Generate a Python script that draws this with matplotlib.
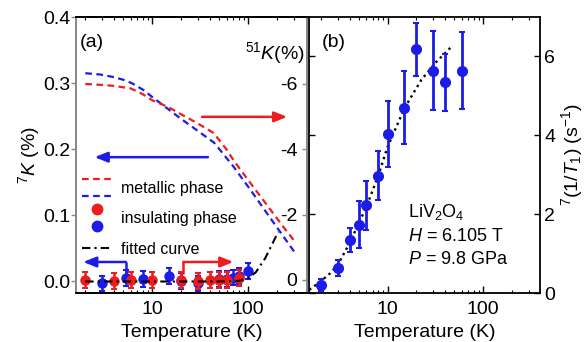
import matplotlib
matplotlib.use("Agg")
import matplotlib.pyplot as plt
from matplotlib.lines import Line2D
from matplotlib.legend_handler import HandlerBase
from matplotlib.ticker import FixedLocator, FixedFormatter, NullFormatter, LogLocator

plt.rcParams['font.family'] = ['Liberation Sans', 'DejaVu Sans']
plt.rcParams['mathtext.fontset'] = 'custom'
plt.rcParams['mathtext.rm'] = 'Liberation Sans'
plt.rcParams['mathtext.it'] = 'Liberation Sans:italic'
plt.rcParams['mathtext.bf'] = 'Liberation Sans:bold'

RED = '#ee1c1c'
BLUE = '#1c1ce6'
GRAY = '#888888'

# ---------------- data : panel (a) ----------------
# metallic phase, 51K (right axis, %)
T_met_red = [2, 3, 4, 6, 8, 10, 14.5, 20, 29, 43.5, 60, 70, 105, 157, 233, 309]
K51_met = [-6.00, -5.97, -5.94, -5.86, -5.68, -5.50, -5.30, -5.07, -4.81, -4.50,
           -3.98, -3.67, -2.97, -2.29, -1.62, -1.16]
# metallic phase, 7K (left axis, %)
T_met_blue = [2, 2.87, 4, 5.0, 6.1, 8, 10.2, 13.1, 19.5, 29, 44, 70, 105, 157, 233, 309]
K7_met = [0.315, 0.313, 0.309, 0.305, 0.300, 0.290, 0.278, 0.266, 0.247, 0.229,
          0.210, 0.174, 0.139, 0.103, 0.068, 0.043]
# insulating phase, 51K (right axis)
T_ins_red = [2, 4, 6, 10, 20, 30, 40, 50, 60, 80]
K51_ins = [0.0, 0.02, 0.0, 0.0, 0.0, 0.03, 0.0, 0.0, 0.0, -0.05]
K51_err = [0.245] * 10
# insulating phase, 7K (left axis)
T_ins_blue = [3, 5.3, 8, 15, 20, 30, 50, 60, 70, 80, 100]
K7_ins = [-0.003, 0.005, 0.004, 0.008, 0.001, -0.003, 0.004, 0.004, 0.006, 0.008, 0.016]
K7_err = [0.012] * 11
# fitted curve (left axis)
T_fit = [2, 10, 50, 80, 100, 120, 150, 180, 205]
K_fit = [0, 0, 0, 0.001, 0.005, 0.014, 0.035, 0.058, 0.075]

# ---------------- data : panel (b) ----------------
T_b = [2, 3, 4, 5, 6, 8, 10, 15, 20, 30, 40, 60]
R_b = [0.2, 0.63, 1.35, 1.73, 2.23, 2.97, 4.03, 4.7, 6.18, 5.64, 5.34, 5.64]
E_b = [0.15, 0.21, 0.3, 0.6, 0.62, 0.62, 0.84, 0.92, 0.68, 1.0, 0.72, 0.97]
T_bfit = [1.51, 2.0, 2.5, 3.0, 4.0, 6.0, 7.9, 10, 15.1, 22.6, 32.6, 46.8]
R_bfit = [0.08, 0.3, 0.5, 0.71, 1.27, 2.19, 2.95, 3.71, 4.7, 5.41, 5.87, 6.25]

# ticks / labels
xticks = [10, 100]
xticklabels = ['10', '100']
ya_ticks = [0.0, 0.1, 0.2, 0.3, 0.4]
ya_labels = ['0.0', '0.1', '0.2', '0.3', '0.4']
yar_ticks = [0, -2, -4, -6]
yar_labels = ['0', '-2', '-4', '-6']
yb_ticks = [0, 2, 4, 6]
yb_labels = ['0', '2', '4', '6']

# arrows (left-axis data coordinates): (tail, head)
arrow_blue_up = ((38, 0.188), (2.5, 0.188))
arrow_red_up = ((33, 0.249), (255, 0.249))
arrow_blue_low = ((5.3, 0.0295), (1.9, 0.0295))
arrow_blue_low_stem = ([5.3, 5.3], [0.0295, 0.009])
arrow_red_low = ((21, 0.0295), (70, 0.0295))
arrow_red_low_stem = ([21, 21], [0.011, 0.0295])

FS = 14

fig = plt.figure(figsize=(5.88, 3.42), dpi=100)
axa = fig.add_axes([76/588, 49/342, 231/588, 276/342])
axb = fig.add_axes([309/588, 49/342, 231/588, 276/342])

# ------------ panel (a) ------------
axa.set_xscale('log')
axa.set_xlim(1.6, 410)
axa.set_ylim(-0.0174, 0.4)
axar = axa.twinx()
axar.set_ylim(0.4, -8.05)

l_blue, = axa.plot(T_met_blue, K7_met, color=BLUE, lw=1.6, ls=(0, (3, 2)))
l_red, = axar.plot(T_met_red, K51_met, color=RED, lw=1.6, ls=(0, (3, 2)))

eb_b = axa.errorbar(T_ins_blue, K7_ins, yerr=K7_err, fmt='o', color=BLUE, ms=6.5,
                    elinewidth=1.8, capsize=2.5, capthick=1.5, zorder=3)
eb_r = axar.errorbar(T_ins_red, K51_ins, yerr=K51_err, fmt='o', color=RED, ms=6.5,
                     elinewidth=1.8, capsize=2.5, capthick=1.5, zorder=3)
l_fit, = axar.plot([], [], color='black', lw=1.5, ls=(0, (4, 2, 1, 2)))
axar.plot(T_fit, K_fit, color='black', lw=1.5, ls=(0, (4, 2, 1, 2)),
          transform=axa.transData, zorder=5)

ap = dict(lw=1.8, shrinkA=0, shrinkB=0)
for (tail, head), c in [(arrow_blue_up, BLUE), (arrow_red_up, RED),
                         (arrow_blue_low, BLUE), (arrow_red_low, RED)]:
    axa.annotate('', xy=head, xytext=tail,
                 arrowprops=dict(arrowstyle='-|>,head_length=0.55,head_width=0.22',
                                 color=c, mutation_scale=14, **ap))
axa.plot(*arrow_blue_low_stem, color=BLUE, lw=1.8, solid_capstyle='butt')
axa.plot(*arrow_red_low_stem, color=RED, lw=1.8, solid_capstyle='butt')

axa.xaxis.set_major_locator(FixedLocator(xticks))
axa.xaxis.set_major_formatter(FixedFormatter(xticklabels))
axa.xaxis.set_minor_locator(LogLocator(base=10, subs=range(2, 10), numticks=20))
axa.xaxis.set_minor_formatter(NullFormatter())
axa.tick_params(axis='x', which='both', direction='in', top=True, bottom=True,
                labelsize=FS, pad=6)
axa.tick_params(axis='x', which='major', length=5, width=1)
axa.tick_params(axis='x', which='minor', length=2.5, width=0.8)
axa.yaxis.set_major_locator(FixedLocator(ya_ticks))
axa.yaxis.set_major_formatter(FixedFormatter(ya_labels))
axa.tick_params(axis='y', direction='out', length=3.5, width=1, color=GRAY,
                labelsize=FS, pad=0.5, right=False)
axar.yaxis.set_major_locator(FixedLocator(yar_ticks))
axar.yaxis.set_major_formatter(FixedFormatter(yar_labels))
axar.tick_params(axis='y', direction='in', length=3.5, width=1, color=GRAY,
                 labelsize=FS, pad=-7)
for t in axar.get_yticklabels():
    t.set_horizontalalignment('right')

for ax in (axa, axar):
    ax.spines['left'].set_color(GRAY)
    ax.spines['right'].set_color(GRAY)
    for s in ax.spines.values():
        s.set_linewidth(1.3)

axa.set_xlabel('Temperature (K)', fontsize=FS, labelpad=4)
axa.set_ylabel(r'$^{7}K$ (%)', fontsize=FS, labelpad=1)
axar.text(0.99, 0.87, r'$^{51}K$(%)', transform=axa.transAxes, ha='right',
          va='center', fontsize=FS)
axa.text(0.017, 0.909, '(a)', transform=axa.transAxes, ha='left', va='center',
         fontsize=FS)


class HandlerVStack(HandlerBase):
    def __init__(self, sep=6.5, **kw):
        super().__init__(**kw)
        self.sep = sep

    def create_artists(self, legend, orig_handle, xdescent, ydescent, width,
                       height, fontsize, trans):
        arts = []
        n = len(orig_handle)
        yc = -ydescent + height / 2
        for i, h in enumerate(orig_handle):
            y = yc + ((n - 1) / 2 - i) * self.sep
            if h.get_marker() in (None, 'None', '', ' '):
                ln = Line2D([-xdescent, -xdescent + width], [y, y])
                ln.update_from(h)
            else:
                ln = Line2D([-xdescent + width / 2], [y])
                ln.update_from(h)
                ln.set_linestyle('None')
            ln.set_transform(trans)
            arts.append(ln)
        return arts


m_red = Line2D([], [], marker='o', color=RED, ms=7.5, ls='None')
m_blue = Line2D([], [], marker='o', color=BLUE, ms=7.5, ls='None')
leg = axar.legend([(l_red, l_blue), (m_red, m_blue), l_fit],
                  ['metallic phase', 'insulating phase', 'fitted curve'],
                  handler_map={tuple: HandlerVStack(sep=12.0)},
                  loc='upper left', bbox_to_anchor=(0.025, 0.405),
                  frameon=False, fontsize=11.5, handlelength=1.9,
                  handletextpad=0.55, labelspacing=0.95, borderpad=0,
                  borderaxespad=0)

# ------------ panel (b) ------------
axb.set_xscale('log')
axb.set_xlim(1.5, 395)
axb.set_ylim(0, 7.0)
axb.plot(T_bfit, R_bfit, color='black', lw=1.7, ls=(0, (1, 1.6)))
axb.errorbar(T_b, R_b, yerr=E_b, fmt='o', color=BLUE, ms=7,
             elinewidth=2, capsize=2.5, capthick=1.5, zorder=3)
axb.xaxis.set_major_locator(FixedLocator(xticks))
axb.xaxis.set_major_formatter(FixedFormatter(xticklabels))
axb.xaxis.set_minor_locator(LogLocator(base=10, subs=range(2, 10), numticks=20))
axb.xaxis.set_minor_formatter(NullFormatter())
axb.tick_params(axis='x', which='both', direction='in', top=True, bottom=True,
                labelsize=FS, pad=6)
axb.tick_params(axis='x', which='major', length=5, width=1)
axb.tick_params(axis='x', which='minor', length=2.5, width=0.8)
axb.yaxis.set_major_locator(FixedLocator(yb_ticks))
axb.yaxis.set_major_formatter(FixedFormatter(yb_labels))
axb.tick_params(axis='y', direction='in', length=4, width=1, left=True,
                right=True, labelleft=False, labelright=True, labelsize=FS,
                pad=3)
axb.yaxis.set_label_position('right')
axb.set_ylabel(r'$^{7}(1/T_1)$ (s$^{-1}$)', fontsize=FS, labelpad=3)
axb.set_xlabel('Temperature (K)', fontsize=FS, labelpad=4)
for s in axb.spines.values():
    s.set_linewidth(1.3)
axb.text(0.056, 0.909, '(b)', transform=axb.transAxes, ha='left', va='center',
         fontsize=FS)
axb.text(0.4286, 0.293, r'LiV$_2$O$_4$', transform=axb.transAxes, ha='left',
         va='center', fontsize=13)
axb.text(0.4286, 0.203, r'$H$ = 6.105 T', transform=axb.transAxes, ha='left',
         va='center', fontsize=13)
axb.text(0.4286, 0.12, r'$P$ = 9.8 GPa', transform=axb.transAxes, ha='left',
         va='center', fontsize=13)

fig.savefig('out.png', dpi=100)
